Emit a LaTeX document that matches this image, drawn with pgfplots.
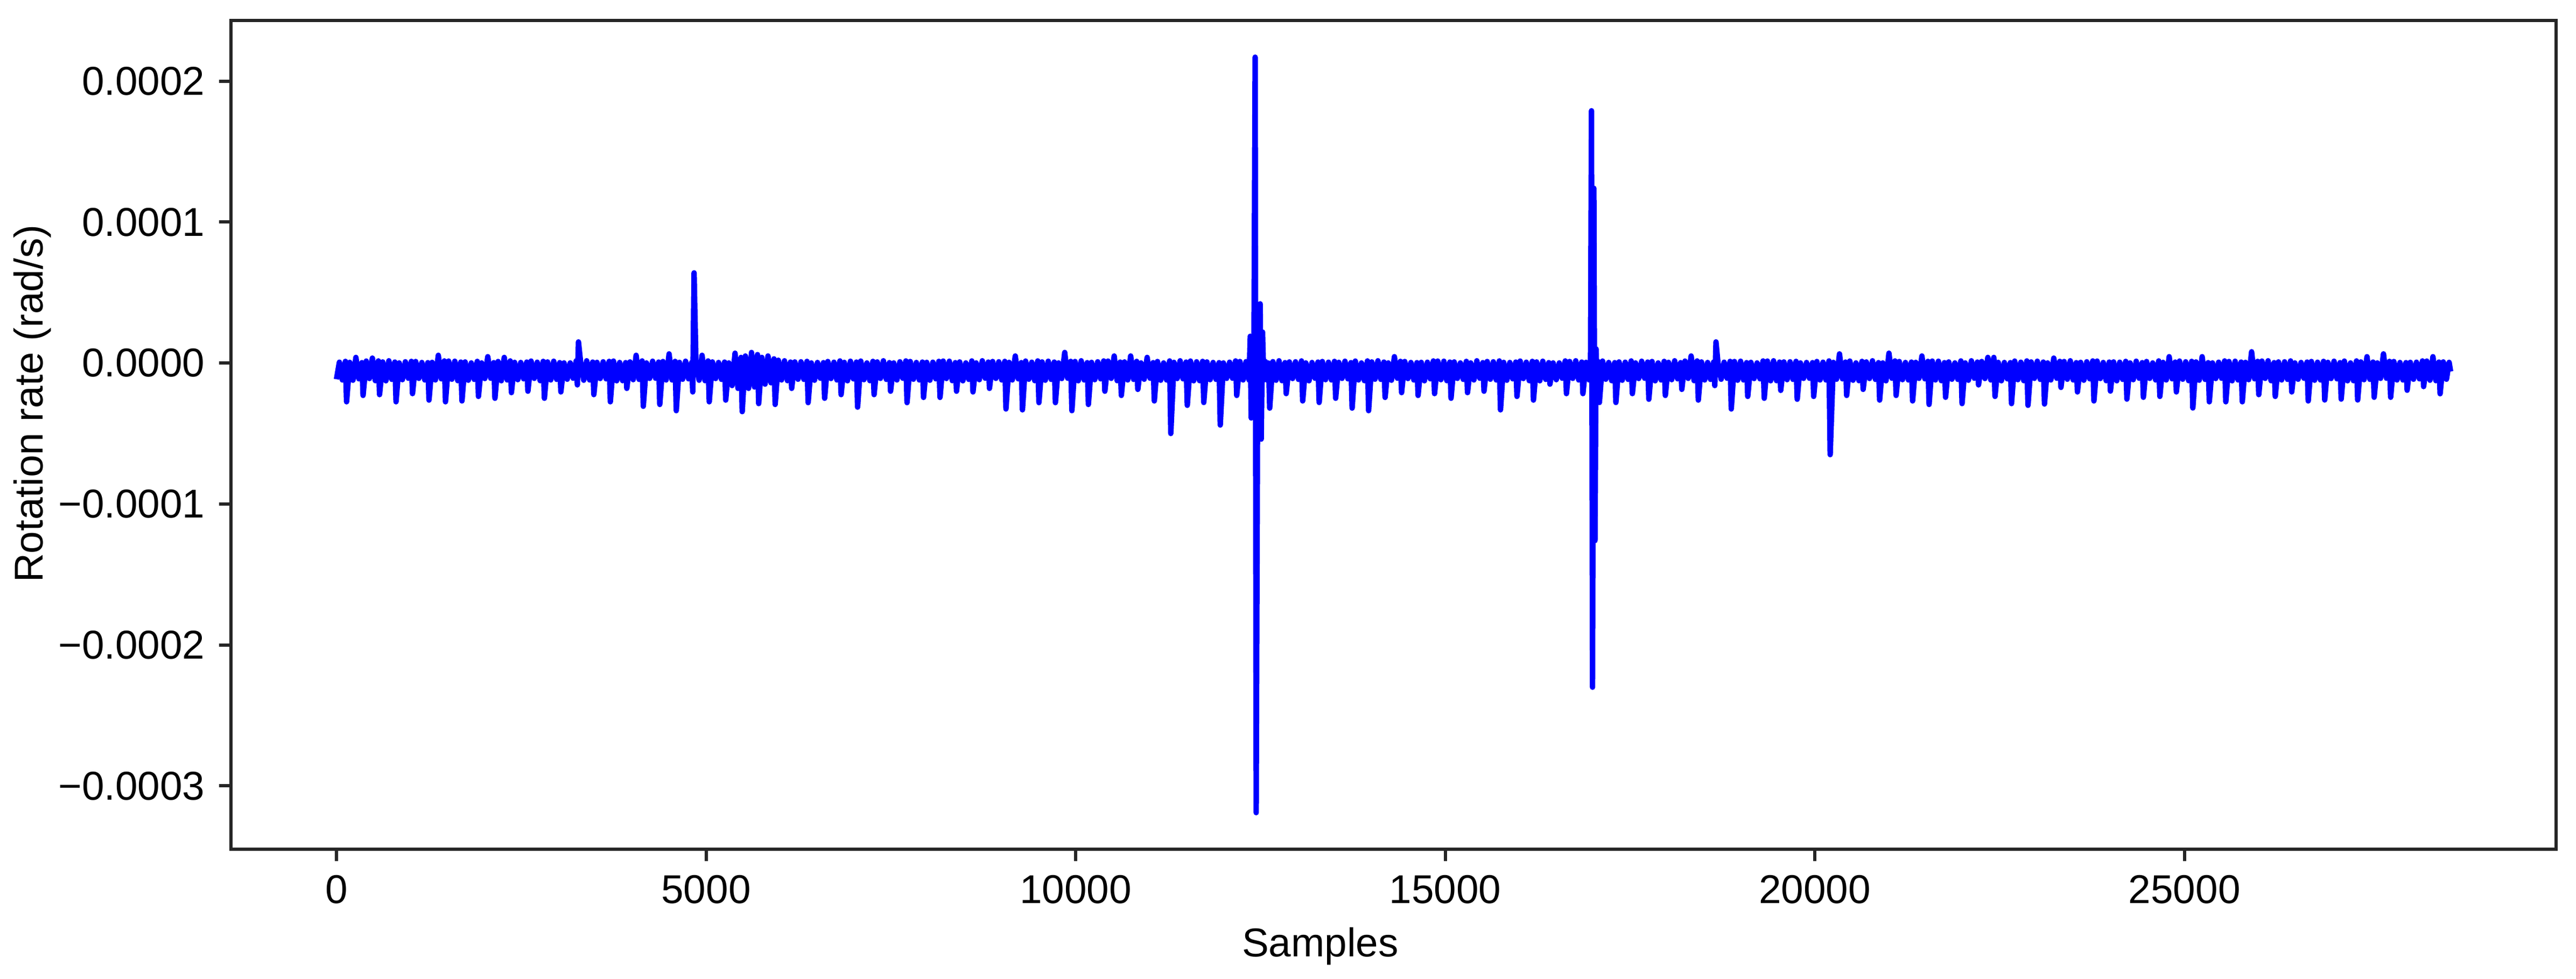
\documentclass[border=0pt]{standalone}
\usepackage{fontspec}
\setmainfont{Liberation Sans}
\usepackage{pgfplots}
\pgfplotsset{compat=1.18}
\pgfplotstableread[row sep=\\]{
x y\\
0 -11.5e-6\\ 40 0.6e-6\\ 80 -12e-6\\ 121 1.2e-6\\ 137 -27.5e-6\\ 180 0.5e-6\\
223 -12.2e-6\\ 263 4e-6\\ 303 -11.2e-6\\ 344 0.3e-6\\ 360 -23e-6\\ 403 1.4e-6\\
446 -11e-6\\ 486 3.5e-6\\ 526 -12.5e-6\\ 567 1.5e-6\\ 583 -22.4e-6\\ 626 0.8e-6\\
669 -12.6e-6\\ 709 1.6e-6\\ 749 -11.6e-6\\ 790 0.7e-6\\ 806 -27.5e-6\\ 849 0.1e-6\\
892 -11.8e-6\\ 932 0.9e-6\\ 972 -10.8e-6\\ 1013 1.2e-6\\ 1029 -21.7e-6\\ 1072 1.1e-6\\
1115 -10.9e-6\\ 1155 0.4e-6\\ 1195 -12e-6\\ 1236 0.3e-6\\ 1252 -26.3e-6\\ 1295 0.5e-6\\
1338 -12e-6\\ 1378 5.5e-6\\ 1418 -11.2e-6\\ 1459 1.5e-6\\ 1475 -27.5e-6\\ 1518 1.4e-6\\
1561 -11.5e-6\\ 1601 1.3e-6\\ 1641 -12.5e-6\\ 1682 0.7e-6\\ 1698 -26.9e-6\\ 1741 0.8e-6\\
1784 -12.2e-6\\ 1824 0.1e-6\\ 1864 -11.6e-6\\ 1905 1.2e-6\\ 1921 -23.7e-6\\ 1964 0.1e-6\\
2007 -11e-6\\ 2047 4.5e-6\\ 2087 -10.8e-6\\ 2128 0.3e-6\\ 2144 -25e-6\\ 2187 1.1e-6\\
2230 -12.6e-6\\ 2270 4e-6\\ 2310 -12e-6\\ 2351 1.5e-6\\ 2367 -21e-6\\ 2410 0.5e-6\\
2453 -11.8e-6\\ 2493 0.4e-6\\ 2533 -11.2e-6\\ 2574 0.7e-6\\ 2590 -20e-6\\ 2633 1.4e-6\\
2676 -10.9e-6\\ 2716 0.6e-6\\ 2756 -12.5e-6\\ 2797 1.2e-6\\ 2813 -25e-6\\ 2856 0.8e-6\\
2899 -12e-6\\ 2939 1.3e-6\\ 2979 -11.6e-6\\ 3020 0.3e-6\\ 3036 -20.5e-6\\ 3079 0.1e-6\\
3122 -11.5e-6\\ 3162 0.1e-6\\ 3202 -10.8e-6\\ 3243 1.5e-6\\ 3259 -15.5e-6\\ 3274 15e-6\\ 3302 1.1e-6\\
3345 -12.2e-6\\ 3385 1.6e-6\\ 3425 -12e-6\\ 3466 0.7e-6\\ 3482 -22.4e-6\\ 3525 0.5e-6\\
3568 -11e-6\\ 3608 0.9e-6\\ 3648 -11.2e-6\\ 3689 1.2e-6\\ 3705 -27.5e-6\\ 3748 1.4e-6\\
3791 -12.6e-6\\ 3831 0.4e-6\\ 3871 -12.5e-6\\ 3912 0.3e-6\\ 3928 -18e-6\\ 3971 0.8e-6\\
4014 -11.8e-6\\ 4054 5.5e-6\\ 4094 -11.6e-6\\ 4135 1.5e-6\\ 4151 -30.7e-6\\ 4194 0.1e-6\\
4237 -10.9e-6\\ 4277 1.3e-6\\ 4317 -10.8e-6\\ 4358 0.7e-6\\ 4374 -29.4e-6\\ 4417 1.1e-6\\
4460 -12e-6\\ 4500 6.5e-6\\ 4540 -12e-6\\ 4581 1.2e-6\\ 4597 -33.8e-6\\ 4640 0.5e-6\\
4683 -11.5e-6\\ 4723 1.3e-6\\ 4763 -11.2e-6\\ 4804 0.3e-6\\ 4820 -20.5e-6\\ 4838 64e-6\\ 4863 1.4e-6\\
4906 -12.2e-6\\ 4946 5.5e-6\\ 4986 -12.5e-6\\ 5027 1.5e-6\\ 5043 -27.5e-6\\ 5086 0.8e-6\\
5129 -11e-6\\ 5169 0.4e-6\\ 5209 -11.6e-6\\ 5250 0.7e-6\\ 5266 -26.3e-6\\ 5309 0.1e-6\\
5352 -16e-6\\ 5392 7e-6\\ 5432 -18e-6\\ 5473 4e-6\\ 5489 -34.5e-6\\ 5532 5e-6\\
5575 -18e-6\\ 5615 7.5e-6\\ 5655 -17e-6\\ 5696 6e-6\\ 5712 -28.8e-6\\ 5755 4e-6\\
5798 -15e-6\\ 5838 5e-6\\ 5878 -14e-6\\ 5919 3e-6\\ 5935 -29.4e-6\\ 5978 2e-6\\
6021 -12e-6\\ 6061 1.6e-6\\ 6101 -12.5e-6\\ 6142 0.7e-6\\ 6158 -18e-6\\ 6201 0.8e-6\\
6244 -11.5e-6\\ 6284 0.9e-6\\ 6324 -11.6e-6\\ 6365 1.2e-6\\ 6381 -28.1e-6\\ 6424 0.1e-6\\
6467 -12.2e-6\\ 6507 0.4e-6\\ 6547 -10.8e-6\\ 6588 0.3e-6\\ 6604 -25e-6\\ 6647 1.1e-6\\
6690 -11e-6\\ 6730 0.6e-6\\ 6770 -12e-6\\ 6811 1.5e-6\\ 6827 -22.4e-6\\ 6870 0.5e-6\\
6913 -12.6e-6\\ 6953 1.3e-6\\ 6993 -11.2e-6\\ 7034 0.7e-6\\ 7050 -31.3e-6\\ 7093 1.4e-6\\
7136 -11.8e-6\\ 7176 0.1e-6\\ 7216 -12.5e-6\\ 7257 1.2e-6\\ 7273 -22.4e-6\\ 7316 0.8e-6\\
7359 -10.9e-6\\ 7399 1.6e-6\\ 7439 -11.6e-6\\ 7480 0.3e-6\\ 7496 -20e-6\\ 7539 0.1e-6\\
7582 -12e-6\\ 7622 0.9e-6\\ 7662 -10.8e-6\\ 7703 1.5e-6\\ 7719 -28.1e-6\\ 7762 1.1e-6\\
7805 -11.5e-6\\ 7845 0.4e-6\\ 7885 -12e-6\\ 7926 0.7e-6\\ 7942 -24.4e-6\\ 7985 0.5e-6\\
8028 -12.2e-6\\ 8068 0.6e-6\\ 8108 -11.2e-6\\ 8149 1.2e-6\\ 8165 -24.4e-6\\ 8208 1.4e-6\\
8251 -11e-6\\ 8291 1.3e-6\\ 8331 -12.5e-6\\ 8372 0.3e-6\\ 8388 -20e-6\\ 8431 0.8e-6\\
8474 -12.6e-6\\ 8514 0.1e-6\\ 8554 -11.6e-6\\ 8595 1.5e-6\\ 8611 -20.5e-6\\ 8654 0.1e-6\\
8697 -11.8e-6\\ 8737 1.6e-6\\ 8777 -10.8e-6\\ 8818 0.7e-6\\ 8834 -18e-6\\ 8877 1.1e-6\\
8920 -10.9e-6\\ 8960 0.9e-6\\ 9000 -12e-6\\ 9041 1.2e-6\\ 9057 -32.6e-6\\ 9100 0.5e-6\\
9143 -12e-6\\ 9183 5e-6\\ 9223 -11.2e-6\\ 9264 0.3e-6\\ 9280 -33.2e-6\\ 9323 1.4e-6\\
9366 -11.5e-6\\ 9406 0.6e-6\\ 9446 -12.5e-6\\ 9487 1.5e-6\\ 9503 -28.1e-6\\ 9546 0.8e-6\\
9589 -12.2e-6\\ 9629 1.3e-6\\ 9669 -11.6e-6\\ 9710 0.7e-6\\ 9726 -28.1e-6\\ 9769 0.1e-6\\
9812 -11e-6\\ 9852 7.5e-6\\ 9892 -10.8e-6\\ 9933 1.2e-6\\ 9949 -33.8e-6\\ 9992 1.1e-6\\
10035 -12.6e-6\\ 10075 1.6e-6\\ 10115 -12e-6\\ 10156 0.3e-6\\ 10172 -29.4e-6\\ 10215 0.5e-6\\
10258 -11.8e-6\\ 10298 0.9e-6\\ 10338 -11.2e-6\\ 10379 1.5e-6\\ 10395 -20e-6\\ 10438 1.4e-6\\
10481 -10.9e-6\\ 10521 5e-6\\ 10561 -12.5e-6\\ 10602 0.7e-6\\ 10618 -23e-6\\ 10661 0.8e-6\\
10704 -12e-6\\ 10744 5e-6\\ 10784 -11.6e-6\\ 10825 1.2e-6\\ 10841 -18.7e-6\\ 10884 0.1e-6\\
10927 -11.5e-6\\ 10967 4e-6\\ 11007 -10.8e-6\\ 11048 0.3e-6\\ 11064 -26.9e-6\\ 11107 1.1e-6\\
11150 -12.2e-6\\ 11190 0.1e-6\\ 11230 -12e-6\\ 11271 1.5e-6\\ 11287 -50e-6\\ 11330 0.5e-6\\
11373 -11e-6\\ 11413 1.6e-6\\ 11453 -11.2e-6\\ 11494 0.7e-6\\ 11510 -30e-6\\ 11553 1.4e-6\\
11596 -12.6e-6\\ 11636 0.9e-6\\ 11676 -12.5e-6\\ 11717 1.2e-6\\ 11733 -28e-6\\ 11776 0.8e-6\\
11819 -11.8e-6\\ 11859 0.4e-6\\ 11899 -11.6e-6\\ 11940 0.3e-6\\ 11956 -44e-6\\ 11999 0.1e-6\\
12042 -10.9e-6\\ 12082 0.6e-6\\ 12122 -10.8e-6\\ 12163 1.5e-6\\ 12179 -23e-6\\ 12222 1.1e-6\\
12265 -12e-6\\ 12305 1e-6\\ 12345 -12e-6\\ 12362 19e-6\\ 12375 -39e-6\\ 12392 4e-6\\ 12410 -14e-6\\
12428 217e-6\\ 12442 -319e-6\\ 12462 -8e-6\\ 12478 2e-6\\ 12496 42e-6\\ 12510 -54e-6\\ 12528 22e-6\\
12545 -12e-6\\ 12568 1e-6\\ 12590 -12e-6\\ 12609 0\\ 12625 -32e-6\\ 12668 1e-6\\
12711 -12.2e-6\\ 12751 1.6e-6\\ 12791 -12.5e-6\\ 12832 0.3e-6\\ 12848 -21.7e-6\\ 12891 0.8e-6\\
12934 -11e-6\\ 12974 0.9e-6\\ 13014 -11.6e-6\\ 13055 1.5e-6\\ 13071 -26.9e-6\\ 13114 0.1e-6\\
13157 -12.6e-6\\ 13197 0.4e-6\\ 13237 -10.8e-6\\ 13278 0.7e-6\\ 13294 -28e-6\\ 13337 1.1e-6\\
13380 -11.8e-6\\ 13420 0.6e-6\\ 13460 -12e-6\\ 13501 1.2e-6\\ 13517 -25e-6\\ 13560 0.5e-6\\
13603 -10.9e-6\\ 13643 1.3e-6\\ 13683 -11.2e-6\\ 13724 0.3e-6\\ 13740 -32e-6\\ 13783 1.4e-6\\
13826 -12e-6\\ 13866 0.1e-6\\ 13906 -12.5e-6\\ 13947 1.5e-6\\ 13963 -33.8e-6\\ 14006 0.8e-6\\
14049 -11.5e-6\\ 14089 1.6e-6\\ 14129 -11.6e-6\\ 14170 0.7e-6\\ 14186 -24.4e-6\\ 14229 0.1e-6\\
14272 -12.2e-6\\ 14312 4.5e-6\\ 14352 -10.8e-6\\ 14393 1.2e-6\\ 14409 -21e-6\\ 14452 1.1e-6\\
14495 -11e-6\\ 14535 0.4e-6\\ 14575 -12e-6\\ 14616 0.3e-6\\ 14632 -23e-6\\ 14675 0.5e-6\\
14718 -12.6e-6\\ 14758 0.6e-6\\ 14798 -11.2e-6\\ 14839 1.5e-6\\ 14855 -21.7e-6\\ 14898 1.4e-6\\
14941 -11.8e-6\\ 14981 1.3e-6\\ 15021 -12.5e-6\\ 15062 0.7e-6\\ 15078 -25e-6\\ 15121 0.8e-6\\
15164 -10.9e-6\\ 15204 0.1e-6\\ 15244 -11.6e-6\\ 15285 1.2e-6\\ 15301 -21e-6\\ 15344 0.1e-6\\
15387 -12e-6\\ 15427 1.6e-6\\ 15467 -10.8e-6\\ 15508 0.3e-6\\ 15524 -20e-6\\ 15567 1.1e-6\\
15610 -11.5e-6\\ 15650 0.9e-6\\ 15690 -12e-6\\ 15731 1.5e-6\\ 15747 -33.2e-6\\ 15790 0.5e-6\\
15833 -12.2e-6\\ 15873 0.4e-6\\ 15913 -11.2e-6\\ 15954 0.7e-6\\ 15970 -23.7e-6\\ 16013 1.4e-6\\
16056 -11e-6\\ 16096 0.6e-6\\ 16136 -12.5e-6\\ 16177 1.2e-6\\ 16193 -26.3e-6\\ 16236 0.8e-6\\
16279 -12.6e-6\\ 16319 1.3e-6\\ 16359 -11.6e-6\\ 16400 0.3e-6\\ 16416 -15e-6\\ 16459 0.1e-6\\
16502 -11.8e-6\\ 16542 0.1e-6\\ 16582 -10.8e-6\\ 16623 1.5e-6\\ 16639 -21.7e-6\\ 16682 1.1e-6\\
16725 -10.9e-6\\ 16765 1.6e-6\\ 16805 -12e-6\\ 16846 0.7e-6\\ 16862 -21.7e-6\\ 16905 0.5e-6\\
16948 -12e-6\\ 16965 -1e-6\\ 16978 179e-6\\ 16992 -230e-6\\ 17010 124e-6\\ 17025 -126e-6\\
17040 10e-6\\ 17055 -20e-6\\ 17070 1e-6\\ 17085 -28e-6\\ 17128 1.4e-6\\
17171 -11.5e-6\\ 17211 0.4e-6\\ 17251 -12.5e-6\\ 17292 0.3e-6\\ 17308 -28e-6\\ 17351 0.8e-6\\
17394 -12.2e-6\\ 17434 0.6e-6\\ 17474 -11.6e-6\\ 17515 1.5e-6\\ 17531 -21.7e-6\\ 17574 0.1e-6\\
17617 -11e-6\\ 17657 1.3e-6\\ 17697 -10.8e-6\\ 17738 0.7e-6\\ 17754 -25.7e-6\\ 17797 1.1e-6\\
17840 -12.6e-6\\ 17880 0.1e-6\\ 17920 -12e-6\\ 17961 1.2e-6\\ 17977 -23e-6\\ 18020 0.5e-6\\
18063 -11.8e-6\\ 18103 1.6e-6\\ 18143 -11.2e-6\\ 18184 0.3e-6\\ 18200 -18.7e-6\\ 18243 1.4e-6\\
18286 -10.9e-6\\ 18326 5e-6\\ 18366 -12.5e-6\\ 18407 1.5e-6\\ 18423 -26.3e-6\\ 18466 0.8e-6\\
18509 -12e-6\\ 18549 0.4e-6\\ 18589 -11.6e-6\\ 18630 0.7e-6\\ 18646 -16e-6\\ 18662 15e-6\\ 18689 0.1e-6\\
18732 -11.5e-6\\ 18772 0.6e-6\\ 18812 -10.8e-6\\ 18853 1.2e-6\\ 18869 -32.6e-6\\ 18912 1.1e-6\\
18955 -12.2e-6\\ 18995 1.3e-6\\ 19035 -12e-6\\ 19076 0.3e-6\\ 19092 -23.7e-6\\ 19135 0.5e-6\\
19178 -11e-6\\ 19218 0.1e-6\\ 19258 -11.2e-6\\ 19299 1.5e-6\\ 19315 -25e-6\\ 19358 1.4e-6\\
19401 -12.6e-6\\ 19441 1.6e-6\\ 19481 -12.5e-6\\ 19522 0.7e-6\\ 19538 -19.4e-6\\ 19581 0.8e-6\\
19624 -11.8e-6\\ 19664 0.9e-6\\ 19704 -11.6e-6\\ 19745 1.2e-6\\ 19761 -25.7e-6\\ 19804 0.1e-6\\
19847 -10.9e-6\\ 19887 0.4e-6\\ 19927 -10.8e-6\\ 19968 0.3e-6\\ 19984 -23.7e-6\\ 20027 1.1e-6\\
20070 -12e-6\\ 20110 0.6e-6\\ 20150 -12e-6\\ 20191 1.5e-6\\ 20207 -65e-6\\ 20250 0.5e-6\\
20293 -11.5e-6\\ 20333 6.5e-6\\ 20373 -11.2e-6\\ 20414 0.7e-6\\ 20430 -23e-6\\ 20473 1.4e-6\\
20516 -12.2e-6\\ 20556 0.1e-6\\ 20596 -12.5e-6\\ 20637 1.2e-6\\ 20653 -18.7e-6\\ 20696 0.8e-6\\
20739 -11e-6\\ 20779 1.6e-6\\ 20819 -11.6e-6\\ 20860 0.3e-6\\ 20876 -26.3e-6\\ 20919 0.1e-6\\
20962 -12.6e-6\\ 21002 7e-6\\ 21042 -10.8e-6\\ 21083 1.5e-6\\ 21099 -23e-6\\ 21142 1.1e-6\\
21185 -11.8e-6\\ 21225 0.4e-6\\ 21265 -12e-6\\ 21306 0.7e-6\\ 21322 -26.9e-6\\ 21365 0.5e-6\\
21408 -10.9e-6\\ 21448 5e-6\\ 21488 -11.2e-6\\ 21529 1.2e-6\\ 21545 -29.4e-6\\ 21588 1.4e-6\\
21631 -12e-6\\ 21671 1.3e-6\\ 21711 -12.5e-6\\ 21752 0.3e-6\\ 21768 -24.3e-6\\ 21811 0.8e-6\\
21854 -11.5e-6\\ 21894 0.1e-6\\ 21934 -11.6e-6\\ 21975 1.5e-6\\ 21991 -28.8e-6\\ 22034 0.1e-6\\
22077 -12.2e-6\\ 22117 1.6e-6\\ 22157 -10.8e-6\\ 22198 0.7e-6\\ 22214 -15.5e-6\\ 22257 1.1e-6\\
22300 -11e-6\\ 22340 4e-6\\ 22380 -12e-6\\ 22421 4e-6\\ 22437 -23.7e-6\\ 22480 0.5e-6\\
22523 -12.6e-6\\ 22563 0.4e-6\\ 22603 -11.2e-6\\ 22644 0.3e-6\\ 22660 -28.8e-6\\ 22703 1.4e-6\\
22746 -11.8e-6\\ 22786 0.6e-6\\ 22826 -12.5e-6\\ 22867 1.5e-6\\ 22883 -30e-6\\ 22926 0.8e-6\\
22969 -10.9e-6\\ 23009 1.3e-6\\ 23049 -11.6e-6\\ 23090 0.7e-6\\ 23106 -29.1e-6\\ 23149 0.1e-6\\
23192 -12e-6\\ 23232 3.5e-6\\ 23272 -10.8e-6\\ 23313 1.2e-6\\ 23329 -17.3e-6\\ 23372 1.1e-6\\
23415 -11.5e-6\\ 23455 1.6e-6\\ 23495 -12e-6\\ 23536 0.3e-6\\ 23552 -20.5e-6\\ 23595 0.5e-6\\
23638 -12.2e-6\\ 23678 0.9e-6\\ 23718 -11.2e-6\\ 23759 1.5e-6\\ 23775 -26.9e-6\\ 23818 1.4e-6\\
23861 -11e-6\\ 23901 0.4e-6\\ 23941 -12.5e-6\\ 23982 0.7e-6\\ 23998 -19.9e-6\\ 24041 0.8e-6\\
24084 -12.6e-6\\ 24124 0.6e-6\\ 24164 -11.6e-6\\ 24205 1.2e-6\\ 24221 -25.6e-6\\ 24264 0.1e-6\\
24307 -11.8e-6\\ 24347 1.3e-6\\ 24387 -10.8e-6\\ 24428 0.3e-6\\ 24444 -24.3e-6\\ 24487 1.1e-6\\
24530 -10.9e-6\\ 24570 0.1e-6\\ 24610 -12e-6\\ 24651 1.5e-6\\ 24667 -23.7e-6\\ 24710 0.5e-6\\
24753 -12e-6\\ 24793 4.5e-6\\ 24833 -11.2e-6\\ 24874 0.7e-6\\ 24890 -20.5e-6\\ 24933 1.4e-6\\
24976 -11.5e-6\\ 25016 0.9e-6\\ 25056 -12.5e-6\\ 25097 1.2e-6\\ 25113 -31.9e-6\\ 25156 0.8e-6\\
25199 -12.2e-6\\ 25239 4.5e-6\\ 25279 -11.6e-6\\ 25320 0.3e-6\\ 25336 -27.5e-6\\ 25379 0.1e-6\\
25422 -11e-6\\ 25462 0.6e-6\\ 25502 -10.8e-6\\ 25543 1.5e-6\\ 25559 -27.5e-6\\ 25602 1.1e-6\\
25645 -12.6e-6\\ 25685 1.3e-6\\ 25725 -12e-6\\ 25766 0.7e-6\\ 25782 -27.5e-6\\ 25825 0.5e-6\\
25868 -11.8e-6\\ 25908 8e-6\\ 25948 -11.2e-6\\ 25989 1.2e-6\\ 26005 -22.4e-6\\ 26048 1.4e-6\\
26091 -10.9e-6\\ 26131 1.6e-6\\ 26171 -12.5e-6\\ 26212 0.3e-6\\ 26228 -23.7e-6\\ 26271 0.8e-6\\
26314 -12e-6\\ 26354 0.9e-6\\ 26394 -11.6e-6\\ 26435 1.5e-6\\ 26451 -20.5e-6\\ 26494 0.1e-6\\
26537 -11.5e-6\\ 26577 0.4e-6\\ 26617 -10.8e-6\\ 26658 0.7e-6\\ 26674 -26.9e-6\\ 26717 1.1e-6\\
26760 -12.2e-6\\ 26800 0.6e-6\\ 26840 -12e-6\\ 26881 1.2e-6\\ 26897 -26.2e-6\\ 26940 0.5e-6\\
26983 -11e-6\\ 27023 1.3e-6\\ 27063 -11.2e-6\\ 27104 0.3e-6\\ 27120 -25.6e-6\\ 27163 1.4e-6\\
27206 -12.6e-6\\ 27246 0.1e-6\\ 27286 -12.5e-6\\ 27327 1.5e-6\\ 27343 -26.2e-6\\ 27386 0.8e-6\\
27429 -11.8e-6\\ 27469 4.5e-6\\ 27509 -11.6e-6\\ 27550 0.7e-6\\ 27566 -24.3e-6\\ 27609 0.1e-6\\
27652 -10.9e-6\\ 27692 6.5e-6\\ 27732 -10.8e-6\\ 27773 1.2e-6\\ 27789 -24.3e-6\\ 27832 1.1e-6\\
27875 -12e-6\\ 27915 0.4e-6\\ 27955 -12e-6\\ 27996 0.3e-6\\ 28012 -19.3e-6\\ 28055 0.5e-6\\
28098 -11.5e-6\\ 28138 0.6e-6\\ 28178 -11.2e-6\\ 28219 1.5e-6\\ 28235 -16.7e-6\\ 28278 1.4e-6\\
28321 -12.2e-6\\ 28361 4.5e-6\\ 28401 -12.5e-6\\ 28442 0.7e-6\\ 28458 -21.8e-6\\ 28501 0.8e-6\\
28544 -11.5e-6\\ 28580 0.5e-6\\ 28600 -6e-6\\
}\gyro
\begin{document}
\begin{tikzpicture}
\begin{axis}[
  scale only axis, width=578.2pt, height=206pt,
  xmin=-1430, xmax=30030, ymin=-0.000345, ymax=0.000243,
  axis line style={draw=black!85, line width=0.8pt},
  tick align=outside, xtick pos=bottom, ytick pos=left,
  major tick length=2.9pt,
  every tick/.style={black!85, line width=0.8pt},
  scaled ticks=false,
  xtick={0,5000,10000,15000,20000,25000},
  xticklabels={0,5000,10000,15000,20000,25000},
  ytick={-0.0003,-0.0002,-0.0001,0,0.0001,0.0002},
  yticklabels={−0.0003,−0.0002,−0.0001,0.0000,0.0001,0.0002},
  ticklabel style={font=\fontsize{10}{12}\selectfont},
  xlabel={Samples}, ylabel={Rotation rate (rad/s)},
  label style={font=\fontsize{10}{12}\selectfont},
  xlabel style={at={(axis description cs:0.4685,-0.1296)}, anchor=base},
  ylabel style={at={(axis description cs:-0.0854,0.5376)}, anchor=center},
]
\addplot[color={rgb,255:red,0;green,0;blue,255}, line width=1.35pt, line join=round] table {\gyro};
\end{axis}
\path (current axis.south west) ++(-56.9pt,-29.7pt);
\path (current axis.north east) ++(4.9pt,5.1pt);
\end{tikzpicture}
\end{document}
